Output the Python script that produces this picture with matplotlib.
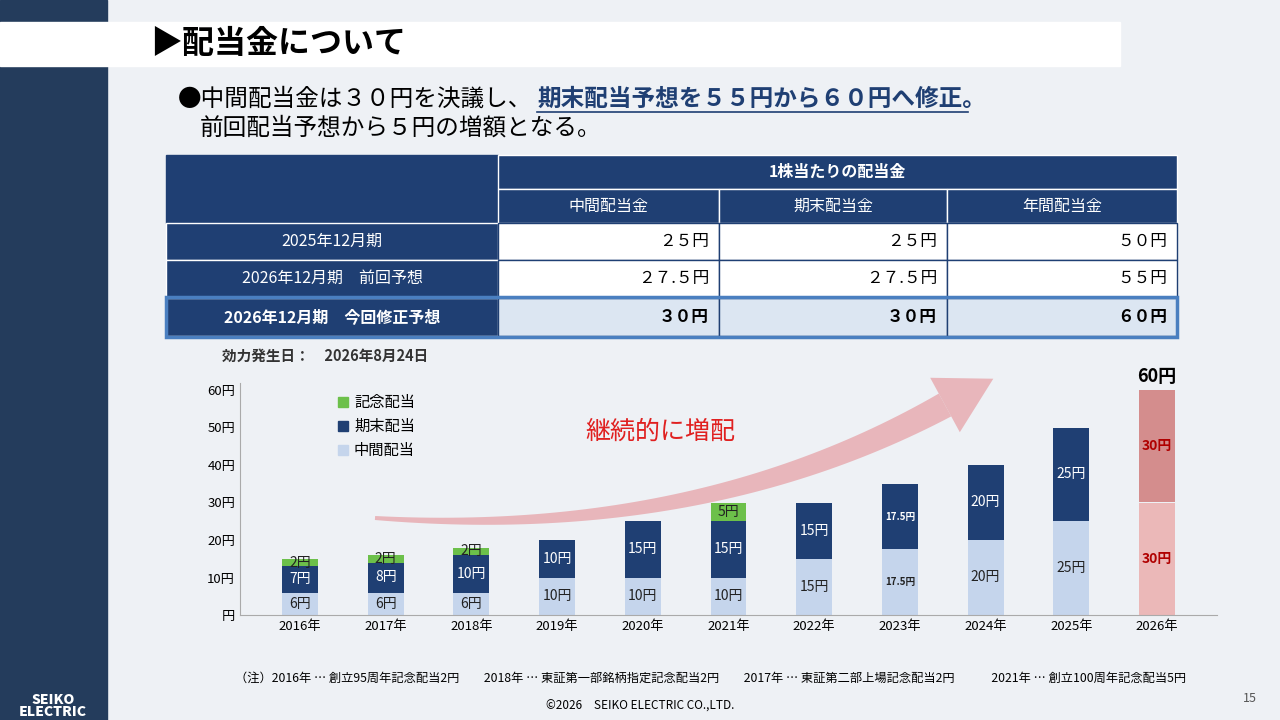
import numpy as np
import matplotlib.pyplot as plt
from matplotlib.patches import Rectangle, Polygon

plt.rcParams['font.family'] = ['Noto Sans CJK JP', 'DejaVu Sans']

NAVY = '#1f3f73'
LIGHT = '#c5d5ec'
GREEN = '#6cc04a'

years = ['2016年', '2017年', '2018年', '2019年', '2020年', '2021年',
         '2022年', '2023年', '2024年', '2025年', '2026年']
interim = [6, 6, 6, 10, 10, 10, 15, 17.5, 20, 25, 30]
final = [7, 8, 10, 10, 15, 15, 15, 17.5, 20, 25, 30]
memorial = [2, 2, 2, 0, 0, 5, 0, 0, 0, 0, 0]


def fmt(v):
	# 17.5 stays decimal, others as int
	return f'{v:g}円'


def tapered_arrow(ax, p0, p1, p2, w0, w1, head_w, head_l, color):
	# quadratic bezier body getting wider, then a triangle head
	t = np.linspace(0, 1, 60)
	pts = ((1 - t) ** 2)[:, None] * p0 + (2 * (1 - t) * t)[:, None] * p1 + (t ** 2)[:, None] * p2
	d = np.gradient(pts, axis=0)
	d /= np.linalg.norm(d, axis=1)[:, None]
	n = np.stack([-d[:, 1], d[:, 0]], axis=1)
	w = (w0 + (w1 - w0) * t)[:, None] / 2
	body = np.vstack([pts + n * w, (pts - n * w)[::-1]])
	ax.add_patch(Polygon(body, closed=True, fc=color, ec='none', alpha=0.75))
	tip = pts[-1] + d[-1] * head_l
	head = [pts[-1] + n[-1] * head_w / 2, tip, pts[-1] - n[-1] * head_w / 2]
	ax.add_patch(Polygon(head, closed=True, fc=color, ec='none', alpha=0.75))


fig = plt.figure(figsize=(12.8, 7.2), dpi=100)
fig.patch.set_facecolor('#eef1f5')

# slide decoration in pixel coords
deco = fig.add_axes([0, 0, 1, 1])
deco.set_xlim(0, 1280)
deco.set_ylim(720, 0)
deco.axis('off')
deco.add_patch(Rectangle((0, 0), 107, 720, color='#243c5c'))
deco.add_patch(Rectangle((0, 22), 1120, 44, color='white'))
deco.text(150, 44, '▶配当金について', fontsize=23, fontweight='bold', va='center')
deco.text(178, 99, '●中間配当金は３０円を決議し、', fontsize=17, va='center')
deco.text(537, 99, '期末配当予想を５５円から６０円へ修正。', fontsize=17, va='center',
          fontweight='bold', color=NAVY)
deco.plot([537, 968], [112, 112], color=NAVY, lw=1.2)
deco.text(200, 128, '前回配当予想から５円の増額となる。', fontsize=17, va='center')

# table
cols = [166, 498, 719, 947, 1177]
deco.add_patch(Rectangle((166, 155), 332, 68, color=NAVY))
deco.add_patch(Rectangle((498, 155), 679, 34, color=NAVY, ec='white'))
deco.text(837, 172, '1株当たりの配当金', color='white', fontsize=11.5, fontweight='bold',
          ha='center', va='center')
for i, h in enumerate(['中間配当金', '期末配当金', '年間配当金']):
	deco.add_patch(Rectangle((cols[i + 1], 189), cols[i + 2] - cols[i + 1], 34,
	                         fc=NAVY, ec='white'))
	deco.text((cols[i + 1] + cols[i + 2]) / 2, 206, h, color='white', fontsize=11.5,
	          ha='center', va='center')
rows = [('2025年12月期', ['２５円', '２５円', '５０円'], 223, 37, False),
        ('2026年12月期　前回予想', ['２７.５円', '２７.５円', '５５円'], 260, 37, False),
        ('2026年12月期　今回修正予想', ['３０円', '３０円', '６０円'], 298, 38, True)]
for label, vals, y, h, bold in rows:
	w = 'bold' if bold else 'normal'
	deco.add_patch(Rectangle((166, y), 332, h, fc=NAVY, ec='white'))
	deco.text(332, y + h / 2, label, color='white', fontsize=11.5, fontweight=w,
	          ha='center', va='center')
	for i, v in enumerate(vals):
		deco.add_patch(Rectangle((cols[i + 1], y), cols[i + 2] - cols[i + 1], h,
		                         fc='#dce6f2' if bold else 'white', ec=NAVY))
		deco.text(cols[i + 2] - 10, y + h / 2, v, fontsize=12, fontweight=w,
		          ha='right', va='center')
deco.add_patch(Rectangle((166, 297), 1011, 40, fill=False, ec='#4a7fc0', lw=2.5))

deco.text(222, 356, '効力発生日：　2026年8月24日', fontsize=10.5, fontweight='bold',
          color='#333333', va='center')
deco.text(235, 678, '（注）2016年 … 創立95周年記念配当2円　　2018年 … 東証第一部銘柄指定記念配当2円'
          '　　2017年 … 東証第二部上場記念配当2円　　　2021年 … 創立100周年記念配当5円',
          fontsize=8.8, va='center')
deco.text(640, 706, '©2026　SEIKO ELECTRIC CO.,LTD.', fontsize=8.5, ha='center', va='center')
deco.text(1250, 698, '15', fontsize=9, ha='center', va='center', color='#555555')
deco.text(53, 706, 'SEIKO\nELECTRIC', color='white', fontsize=10, fontweight='black',
          ha='center', va='center', linespacing=0.8)

# bar chart
ax = fig.add_axes([240 / 1280, 1 - 615 / 720, 977 / 1280, 232.5 / 720])
ax.set_facecolor('none')
x = list(range(len(years)))
c_int = [LIGHT] * 10 + ['#ebb8b8']
c_fin = [NAVY] * 10 + ['#d48d8d']
top = [a + b for a, b in zip(interim, final)]
ax.bar(x, interim, width=0.42, color=c_int)
ax.bar(x, final, width=0.42, bottom=interim, color=c_fin)
ax.bar(x, memorial, width=0.42, bottom=top, color=GREEN)
for i in x:
	small = 7 if interim[i] == 17.5 else 10
	wt = 'bold' if i == 10 or interim[i] == 17.5 else 'normal'
	ax.text(i, interim[i] / 2, fmt(interim[i]), ha='center', va='center', fontsize=small,
	        color='#222222' if i < 10 else '#b00000', fontweight=wt)
	ax.text(i, interim[i] + final[i] / 2, fmt(final[i]), ha='center', va='center',
	        fontsize=small, color='white' if i < 10 else '#b00000', fontweight=wt)
	if memorial[i]:
		ax.text(i, top[i] + memorial[i] / 2, fmt(memorial[i]), ha='center', va='center',
		        fontsize=10, color='#222222')
ax.text(10, 63.5, '60円', ha='center', va='center', fontsize=13, fontweight='bold')
ax.set_xlim(-0.7, 10.7)
ax.set_ylim(0, 62)
ax.set_xticks(x)
ax.set_xticklabels(years, fontsize=9.5)
ax.set_yticks(range(0, 61, 10))
ax.set_yticklabels(['円'] + [f'{v}円' for v in range(10, 61, 10)], fontsize=9.5)
ax.tick_params(length=0)
for s in ['top', 'right']:
	ax.spines[s].set_visible(False)
ax.spines['left'].set_color('#aaaaaa')
ax.spines['bottom'].set_color('#aaaaaa')

# legend
for k, (lab, col) in enumerate([('記念配当', GREEN), ('期末配当', NAVY), ('中間配当', LIGHT)]):
	deco.add_patch(Rectangle((338, 397 + k * 24), 10, 10, color=col))
	deco.text(354, 402 + k * 24, lab, fontsize=11, va='center')

# growth arrow, thin at the tail and wide near the head
tapered_arrow(deco, np.array([375.0, 518.0]), np.array([700.0, 540.0]),
              np.array([945.0, 405.0]), 4, 26, 62, 55, '#e6a3a8')
deco.text(660, 432, '継続的に増配', fontsize=18, color='#e02020', ha='center', va='center')

plt.savefig('out.png', dpi=100, facecolor=fig.get_facecolor())
